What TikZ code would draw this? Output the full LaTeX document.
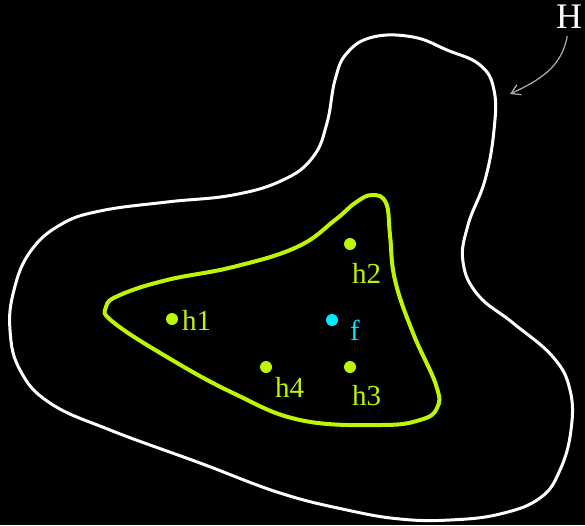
\documentclass[tikz,border=0pt]{standalone}
\usepackage{fontspec}
\setmainfont{Liberation Serif}
\usepackage{xcolor}
\usepackage{tikz}
\usetikzlibrary{calc,arrows.meta,positioning}
\definecolor{lime}{RGB}{190,245,0}
\definecolor{aqua}{RGB}{0,235,255}
\definecolor{arrowgray}{RGB}{175,175,175}

\begin{document}
\begin{tikzpicture}[x=1pt,y=-1pt,
    dot/.style={circle,fill=#1,inner sep=0pt,minimum size=12pt},
    lab/.style={anchor=base west,inner sep=0pt,font=\fontsize{29}{33}\selectfont}]
      \fill[black] (0,0) rectangle (585,525);
      \useasboundingbox (0,0) rectangle (585,525);
      % outer set H
      \draw[white,line width=3pt] plot[smooth cycle,tension=0.7] coordinates {
        (335,80) (347,53) (373,37) (413,37) (447,50) (480,65) (494,90) (494,130)
        (485,180) (468,225) (463,262) (478,295) (513,323) (553,357) (570,390)
        (571,430) (560,470) (540,498) (500,514) (450,520) (400,519) (347,510)
        (280,493) (200,463) (110,430) (50,403) (20,370) (10,330) (14,290)
        (30,252) (60,225) (100,211) (167,202) (233,195) (283,180) (313,157)
        (327,123)};
      % inner region
      \draw[lime,line width=4pt] plot[smooth cycle,tension=0.7] coordinates {
        (372,195) (386,203) (390,235) (395,280) (413,333) (436,385) (437,408)
        (420,420) (380,425) (300,420) (233,393) (167,357) (113,322) (106,307)
        (120,295) (167,280) (233,267) (297,247) (335,220) (355,203)};
      % points
      \node[dot=lime] (h1) at (172,319) {};
      \node[dot=lime] (h2) at (350,244) {};
      \node[dot=lime] (h3) at (350,367) {};
      \node[dot=lime] (h4) at (266,367) {};
      \node[dot=aqua] (f) at (332,320) {};
      \node[lab,text=lime] (h1lab) at (182,330) {h1};
      \node[lab,text=lime] (h2lab) at (352,283) {h2};
      \node[lab,text=lime] (h3lab) at (352,405) {h3};
      \node[lab,text=lime] (h4lab) at (275,397) {h4};
      \node[lab,text=aqua] (flab) at (350,340) {f};
      % name of the set
      \node[anchor=base west,inner sep=0pt,text=white,font=\fontsize{36}{40}\selectfont] (H) at (556,28) {H};
      \coordinate (Htip) at (510,94);
      \draw[arrowgray,line width=1.2pt,-{Straight Barb[length=9pt,width=11pt]}]
        ($(H.south)+(-2,8)$) to[out=-100,in=25] (Htip);
    \end{tikzpicture}
\end{document}
